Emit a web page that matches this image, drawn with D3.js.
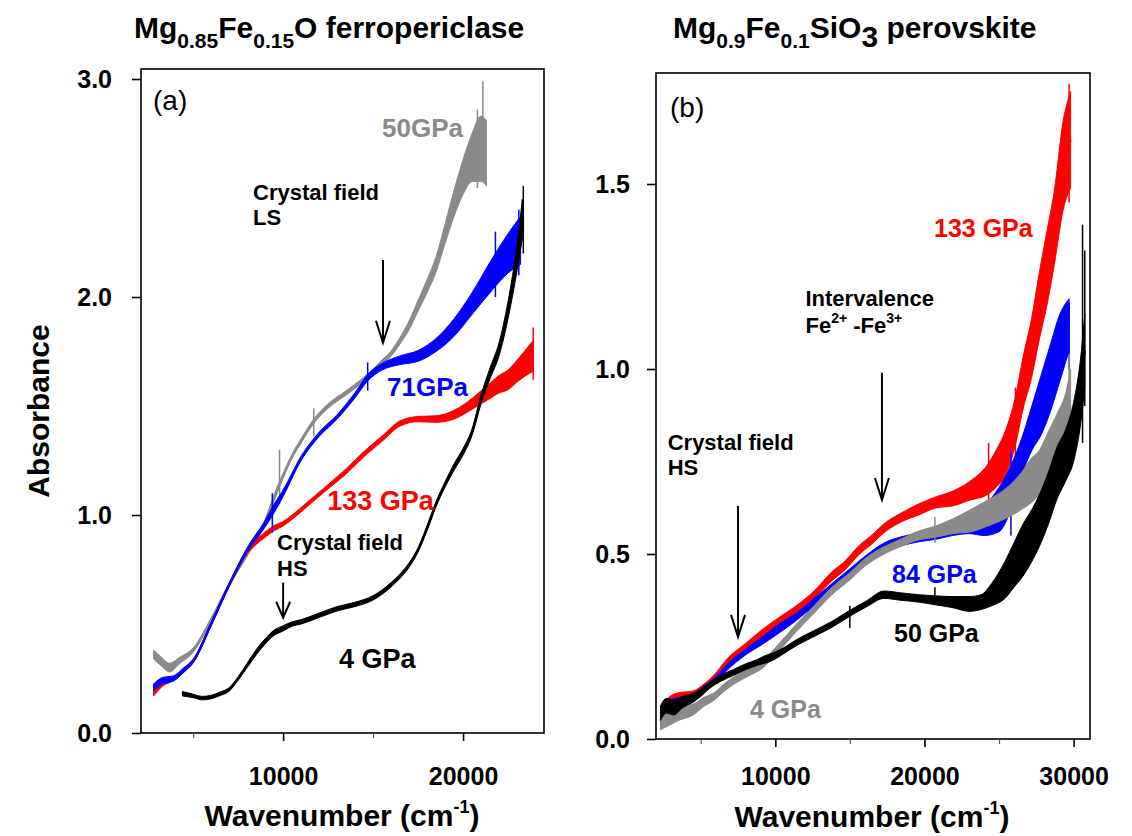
<!DOCTYPE html>
<html>
<head>
<meta charset="utf-8">
<script src="https://cdn.jsdelivr.net/npm/d3@7"></script>
<style>
  body { margin: 0; background: #fff; }
  text { font-family: "Liberation Sans", Arial, Helvetica, sans-serif; }
</style>
</head>
<body>
<svg id="fig" width="1132" height="836"></svg>
<script>
// ---------- Panel (a): Mg0.85Fe0.15O ferropericlase ----------
// wavenumber (cm-1), absorbance, and half-width of the noisy trace
const fp50Wn    = [2800, 3200, 3700, 4200, 5000, 6000, 7000, 8000, 9000, 9500, 10000, 10500, 11000, 11700, 12500, 13500, 14300, 15000, 15500, 16000, 16500, 17000, 17500, 18000, 18500, 19000, 19500, 20000, 20500, 21000, 21300];
const fp50Abs   = [0.36, 0.33, 0.30, 0.33, 0.38, 0.52, 0.68, 0.82, 0.97, 1.08, 1.18, 1.27, 1.34, 1.43, 1.50, 1.56, 1.61, 1.66, 1.70, 1.74, 1.80, 1.87, 1.96, 2.05, 2.15, 2.29, 2.43, 2.55, 2.64, 2.68, 2.66];
const fp50Noise = [0.02, 0.02, 0.02, 0.015, 0.01, 0.008, 0.008, 0.008, 0.01, 0.015, 0.012, 0.01, 0.01, 0.01, 0.01, 0.01, 0.01, 0.01, 0.012, 0.012, 0.015, 0.02, 0.025, 0.03, 0.035, 0.045, 0.06, 0.08, 0.11, 0.15, 0.15];
const fp50Spikes = [[9800, 1.05, 1.30], [11700, 1.36, 1.49], [20800, 2.50, 2.86], [21100, 2.60, 2.99]];

const fp71Wn    = [2800, 3300, 3900, 4500, 5000, 6000, 7000, 8000, 9000, 9500, 10000, 11000, 12000, 13000, 14000, 14700, 15500, 16500, 17500, 18500, 19500, 20500, 21500, 22500, 23200];
const fp71Abs   = [0.21, 0.24, 0.25, 0.29, 0.33, 0.50, 0.68, 0.84, 0.96, 1.03, 1.10, 1.26, 1.37, 1.45, 1.55, 1.63, 1.68, 1.71, 1.73, 1.78, 1.86, 1.97, 2.09, 2.20, 2.26];
const fp71Noise = [0.015, 0.015, 0.012, 0.01, 0.008, 0.008, 0.008, 0.01, 0.015, 0.02, 0.015, 0.01, 0.01, 0.01, 0.012, 0.015, 0.015, 0.02, 0.025, 0.03, 0.04, 0.05, 0.07, 0.09, 0.11];
const fp71Spikes = [[9400, 0.92, 1.10], [14700, 1.57, 1.70], [21800, 2.00, 2.30], [23100, 2.10, 2.40]];

const fp133Wn    = [2800, 3300, 3900, 4500, 5000, 6000, 7000, 8000, 9000, 9500, 10000, 10500, 11500, 12500, 13500, 14500, 15500, 16500, 17500, 18500, 19500, 20500, 21000, 21500, 22000, 22500, 23000, 23500, 23900];
const fp133Abs   = [0.19, 0.23, 0.25, 0.29, 0.33, 0.50, 0.68, 0.83, 0.91, 0.94, 0.96, 0.99, 1.06, 1.13, 1.20, 1.28, 1.35, 1.42, 1.44, 1.44, 1.46, 1.51, 1.54, 1.57, 1.60, 1.62, 1.66, 1.70, 1.73];
const fp133Noise = [0.02, 0.015, 0.01, 0.01, 0.008, 0.008, 0.008, 0.01, 0.012, 0.012, 0.01, 0.01, 0.01, 0.01, 0.012, 0.012, 0.012, 0.012, 0.012, 0.015, 0.02, 0.025, 0.03, 0.035, 0.04, 0.045, 0.05, 0.06, 0.07];
const fp133Spikes = [[23900, 1.62, 1.86]];

const fp4Wn    = [4400, 5000, 5500, 6000, 6500, 7000, 7500, 8000, 8500, 9000, 9500, 10000, 10500, 11000, 12000, 13000, 14000, 15000, 16000, 16500, 17000, 17500, 18000, 18500, 19000, 19500, 20000, 20500, 21000, 21500, 22000, 22500, 23000, 23300];
const fp4Abs   = [0.18, 0.17, 0.16, 0.165, 0.18, 0.20, 0.25, 0.31, 0.37, 0.42, 0.46, 0.48, 0.50, 0.51, 0.54, 0.57, 0.59, 0.62, 0.68, 0.72, 0.77, 0.84, 0.94, 1.05, 1.14, 1.22, 1.29, 1.38, 1.53, 1.65, 1.76, 1.94, 2.18, 2.36];
const fp4Noise = [0.01, 0.008, 0.008, 0.008, 0.008, 0.008, 0.008, 0.01, 0.012, 0.012, 0.012, 0.012, 0.01, 0.01, 0.01, 0.01, 0.01, 0.01, 0.01, 0.01, 0.01, 0.01, 0.012, 0.012, 0.012, 0.015, 0.015, 0.015, 0.02, 0.025, 0.03, 0.04, 0.06, 0.09];
const fp4Spikes = [[23350, 2.20, 2.51]];

// ---------- Panel (b): Mg0.9Fe0.1SiO3 perovskite ----------
const pv133Wn    = [2300, 2800, 3500, 4500, 5200, 6000, 6800, 8000, 9100, 10300, 11400, 12600, 13800, 14700, 15600, 16500, 17300, 18500, 19600, 20800, 21900, 23000, 24200, 24800, 25400, 26100, 26600, 27200, 27700, 28200, 28700, 29300, 29800];
const pv133Abs   = [0.06, 0.09, 0.11, 0.12, 0.14, 0.17, 0.21, 0.25, 0.285, 0.32, 0.35, 0.39, 0.44, 0.47, 0.51, 0.54, 0.57, 0.60, 0.62, 0.64, 0.65, 0.67, 0.70, 0.73, 0.77, 0.86, 0.96, 1.06, 1.17, 1.27, 1.38, 1.55, 1.62];
const pv133Noise = [0.02, 0.02, 0.015, 0.01, 0.008, 0.008, 0.008, 0.008, 0.01, 0.01, 0.01, 0.01, 0.012, 0.012, 0.012, 0.012, 0.012, 0.012, 0.015, 0.015, 0.02, 0.025, 0.04, 0.05, 0.06, 0.065, 0.07, 0.08, 0.09, 0.10, 0.10, 0.12, 0.13];
const pv133Spikes = [[24300, 0.60, 0.80], [26100, 0.75, 0.95], [29700, 1.45, 1.77]];

const pv84Wn    = [2300, 2800, 3500, 4500, 5200, 6000, 6800, 8000, 9100, 10300, 11400, 12600, 13800, 15000, 16200, 17300, 18500, 19600, 20800, 21900, 23000, 24000, 25000, 25800, 26500, 27200, 27800, 28400, 29100, 29700];
const pv84Abs   = [0.05, 0.085, 0.10, 0.11, 0.135, 0.16, 0.195, 0.235, 0.265, 0.30, 0.33, 0.37, 0.41, 0.45, 0.49, 0.52, 0.535, 0.545, 0.555, 0.565, 0.575, 0.59, 0.62, 0.68, 0.76, 0.84, 0.90, 0.97, 1.06, 1.12];
const pv84Noise = [0.015, 0.015, 0.012, 0.01, 0.008, 0.008, 0.008, 0.008, 0.01, 0.012, 0.01, 0.01, 0.01, 0.01, 0.01, 0.01, 0.012, 0.012, 0.015, 0.015, 0.02, 0.04, 0.06, 0.06, 0.05, 0.06, 0.08, 0.09, 0.09, 0.07];
const pv84Spikes = [[25800, 0.55, 0.78], [29700, 1.00, 1.18]];

const pv4Wn    = [2300, 2800, 3500, 4500, 5200, 5900, 6600, 7300, 8200, 9100, 10300, 11400, 12600, 13800, 15000, 16100, 17300, 18400, 19600, 20700, 21900, 23100, 24200, 25400, 26500, 27200, 27700, 28300, 28900, 29500, 29800];
const pv4Abs   = [0.05, 0.06, 0.07, 0.08, 0.10, 0.115, 0.14, 0.16, 0.18, 0.20, 0.25, 0.30, 0.35, 0.40, 0.44, 0.48, 0.51, 0.53, 0.55, 0.56, 0.575, 0.59, 0.61, 0.635, 0.67, 0.70, 0.72, 0.76, 0.80, 0.85, 0.90];
const pv4Noise = [0.025, 0.025, 0.02, 0.015, 0.012, 0.01, 0.01, 0.01, 0.01, 0.01, 0.01, 0.01, 0.01, 0.01, 0.01, 0.01, 0.01, 0.01, 0.012, 0.015, 0.02, 0.03, 0.035, 0.04, 0.05, 0.06, 0.06, 0.07, 0.08, 0.09, 0.10];
const pv4Spikes = [[20700, 0.53, 0.60], [29700, 0.85, 1.04]];

const pv50Wn    = [2300, 2700, 3200, 3800, 4400, 5000, 5600, 6400, 7200, 8000, 8800, 9300, 9800, 10500, 11400, 12600, 13800, 15000, 16100, 17300, 18400, 19600, 20700, 21900, 23000, 23800, 24500, 25400, 26000, 26600, 27200, 27700, 28300, 28900, 29500, 30000, 30500, 30750];
const pv50Abs   = [0.07, 0.09, 0.085, 0.10, 0.11, 0.125, 0.145, 0.165, 0.18, 0.195, 0.207, 0.215, 0.222, 0.237, 0.26, 0.285, 0.31, 0.34, 0.365, 0.39, 0.385, 0.38, 0.375, 0.37, 0.365, 0.37, 0.39, 0.43, 0.47, 0.51, 0.55, 0.59, 0.65, 0.72, 0.77, 0.83, 0.95, 1.05];
const pv50Noise = [0.02, 0.02, 0.02, 0.015, 0.012, 0.01, 0.008, 0.008, 0.008, 0.008, 0.008, 0.01, 0.01, 0.008, 0.008, 0.008, 0.008, 0.008, 0.008, 0.01, 0.01, 0.01, 0.012, 0.015, 0.02, 0.02, 0.03, 0.05, 0.06, 0.07, 0.07, 0.07, 0.07, 0.07, 0.07, 0.08, 0.09, 0.10];
const pv50Spikes = [[15000, 0.30, 0.36], [20700, 0.37, 0.41], [30600, 0.80, 1.39], [30750, 0.90, 1.32]];

// tick values
const ticksA_y = [0, 1, 2, 3];
const ticksB_y = [0, 0.5, 1.0, 1.5];
const ticksA_x = [10000, 20000];
const ticksB_x = [10000, 20000, 30000];
const minorA_x = [5000, 15000];
const minorB_x = [5000, 15000, 25000];

const RED = "#ff0000", BLUE = "#0000ff", GRAY = "#8a8a8a", BLACK = "#000000";

function build(wn, abs, noise, spikes, color) {
  return { pts: wn.map((w, i) => ({ w, a: abs[i], n: noise[i] || 0 })), spikes, color };
}

const panels = [
  {
    id: "a",
    box: { left: 141, right: 544, top: 69, bottom: 733 },
    xDomain: [2100, 24500], yDomain: [0, 3.046],
    yTicks: ticksA_y, xTicks: ticksA_x, xMinor: minorA_x,
    yPad: 20, xPad: 26,
    series: [
      build(fp50Wn, fp50Abs, fp50Noise, fp50Spikes, GRAY),
      build(fp133Wn, fp133Abs, fp133Noise, fp133Spikes, RED),
      build(fp71Wn, fp71Abs, fp71Noise, fp71Spikes, BLUE),
      build(fp4Wn, fp4Abs, fp4Noise, fp4Spikes, BLACK)
    ],
    labels: [
      { t: "(a)", w: 2767, a: 2.858, size: 28, color: BLACK, weight: "normal" },
      { t: "50GPa", w: 15500, a: 2.734, size: 26, color: GRAY },
      { t: "Crystal field", w: 8326, a: 2.445, size: 22, color: BLACK },
      { t: "LS", w: 8326, a: 2.33, size: 22, color: BLACK },
      { t: "71GPa", w: 15774, a: 1.546, size: 26, color: BLUE },
      { t: "133 GPa", w: 12448, a: 1.023, size: 27, color: RED },
      { t: "Crystal field", w: 9660, a: 0.839, size: 22, color: BLACK },
      { t: "HS", w: 9660, a: 0.72, size: 22, color: BLACK },
      { t: "4 GPa", w: 13110, a: 0.298, size: 27, color: BLACK }
    ],
    arrows: [
      { w: 15550, a0: 2.17, a1: 1.79 },
      { w: 10000, a0: 0.69, a1: 0.53 }
    ],
    xTitle: { x: 342, y: 826 }
  },
  {
    id: "b",
    box: { left: 656, right: 1090, top: 73, bottom: 739 },
    xDomain: [2000, 31100], yDomain: [0, 1.8],
    yTicks: ticksB_y, xTicks: ticksB_x, xMinor: minorB_x,
    yPad: 17, xPad: 20,
    series: [
      build(pv133Wn, pv133Abs, pv133Noise, pv133Spikes, RED),
      build(pv84Wn, pv84Abs, pv84Noise, pv84Spikes, BLUE),
      build(pv4Wn, pv4Abs, pv4Noise, pv4Spikes, GRAY),
      build(pv50Wn, pv50Abs, pv50Noise, pv50Spikes, BLACK)
    ],
    labels: [
      { t: "(b)", w: 2939, a: 1.681, size: 28, color: BLACK, weight: "normal" },
      { t: "133 GPa", w: 20640, a: 1.357, size: 25, color: RED },
      { t: "Intervalence", w: 12024, a: 1.17, size: 22, color: BLACK },
      { t: "Crystal field", w: 2784, a: 0.781, size: 22, color: BLACK },
      { t: "HS", w: 2784, a: 0.714, size: 22, color: BLACK },
      { t: "84 GPa", w: 17824, a: 0.422, size: 25, color: BLUE },
      { t: "50 GPa", w: 17958, a: 0.262, size: 25, color: BLACK },
      { t: "4 GPa", w: 8303, a: 0.057, size: 25, color: GRAY }
    ],
    ionLabel: { w: 12024, a: 1.097 },
    arrows: [
      { w: 17150, a0: 0.99, a1: 0.646 },
      { w: 7500, a0: 0.63, a1: 0.276 }
    ],
    xTitle: { x: 872, y: 827 }
  }
];

const svg = d3.select("#fig");

panels.forEach(p => {
  const b = p.box;
  const x = d3.scaleLinear().domain(p.xDomain).range([b.left, b.right]);
  const y = d3.scaleLinear().domain(p.yDomain).range([b.bottom, b.top]);
  const g = svg.append("g");

  const clipId = "clip-" + p.id;
  svg.append("defs").append("clipPath").attr("id", clipId)
    .append("rect").attr("x", b.left).attr("y", b.top)
    .attr("width", b.right - b.left).attr("height", b.bottom - b.top);

  const plot = g.append("g").attr("clip-path", `url(#${clipId})`);

  // spectra: a filled band for the noise spread plus a centre trace
  const band = d3.area().curve(d3.curveMonotoneX)
    .x(d => x(d.w)).y0(d => y(d.a - d.n)).y1(d => y(d.a + d.n));
  const line = d3.line().curve(d3.curveMonotoneX).x(d => x(d.w)).y(d => y(d.a));

  p.series.forEach(s => {
    plot.append("path").datum(s.pts).attr("d", band)
      .attr("fill", s.color).attr("stroke", s.color).attr("stroke-width", 1)
      .attr("stroke-linejoin", "round");
    plot.append("path").datum(s.pts).attr("d", line)
      .attr("fill", "none").attr("stroke", s.color).attr("stroke-width", 2)
      .attr("stroke-linejoin", "round");
    plot.selectAll(null).data(s.spikes).enter().append("line")
      .attr("x1", d => x(d[0])).attr("x2", d => x(d[0]))
      .attr("y1", d => y(d[1])).attr("y2", d => y(d[2]))
      .attr("stroke", s.color).attr("stroke-width", 1.5);
  });

  // frame
  g.append("rect").attr("x", b.left).attr("y", b.top)
    .attr("width", b.right - b.left).attr("height", b.bottom - b.top)
    .attr("fill", "none").attr("stroke", "#000").attr("stroke-width", 1.6);

  // axes
  const yAxis = d3.axisLeft(y).tickValues(p.yTicks).tickFormat(d3.format(".1f"))
    .tickSize(9).tickSizeOuter(0).tickPadding(p.yPad);
  const ya = g.append("g").attr("transform", `translate(${b.left},0)`).call(yAxis);
  const xAxis = d3.axisBottom(x).tickValues(p.xTicks).tickFormat(d3.format("d"))
    .tickSize(8).tickSizeOuter(0).tickPadding(p.xPad);
  const xa = g.append("g").attr("transform", `translate(0,${b.bottom})`).call(xAxis);
  const xMinorAxis = d3.axisBottom(x).tickValues(p.xMinor).tickFormat("")
    .tickSize(5).tickSizeOuter(0);
  const xm = g.append("g").attr("transform", `translate(0,${b.bottom})`).call(xMinorAxis);
  [ya, xa, xm].forEach(ax => {
    ax.select(".domain").remove();
    ax.selectAll("line").attr("stroke", "#000").attr("stroke-width", 1.6);
    ax.selectAll("text").attr("font-size", 25).attr("font-weight", "bold")
      .attr("fill", "#000").attr("font-family", '"Liberation Sans", Arial, sans-serif');
  });
  xm.selectAll("line").attr("stroke", "#555").attr("stroke-width", 1.2);

  // annotations
  p.labels.forEach(l => {
    g.append("text").attr("x", x(l.w)).attr("y", y(l.a))
      .attr("font-size", l.size).attr("font-weight", l.weight || "bold")
      .attr("fill", l.color).text(l.t);
  });
  if (p.ionLabel) {
    const t = g.append("text").attr("x", x(p.ionLabel.w)).attr("y", y(p.ionLabel.a))
      .attr("font-size", 22).attr("font-weight", "bold");
    t.append("tspan").text("Fe");
    t.append("tspan").attr("font-size", 14).attr("dy", -10).text("2+");
    t.append("tspan").attr("dy", 10).text(" -Fe");
    t.append("tspan").attr("font-size", 14).attr("dy", -10).text("3+");
  }
  p.arrows.forEach(ar => {
    const ax = x(ar.w), y0 = y(ar.a0), y1 = y(ar.a1);
    const headH = Math.min(22, (y1 - y0) * 0.45), headW = 7;
    g.append("line").attr("x1", ax).attr("x2", ax).attr("y1", y0).attr("y2", y1)
      .attr("stroke", "#000").attr("stroke-width", 2);
    g.append("path")
      .attr("d", `M${ax - headW},${y1 - headH} L${ax},${y1} L${ax + headW},${y1 - headH}`)
      .attr("fill", "none").attr("stroke", "#000").attr("stroke-width", 2);
  });

  // x-axis title
  const xt = g.append("text").attr("x", p.xTitle.x).attr("y", p.xTitle.y)
    .attr("text-anchor", "middle").attr("font-size", 30).attr("font-weight", "bold");
  xt.append("tspan").text("Wavenumber (cm");
  xt.append("tspan").attr("font-size", 18).attr("dy", -13).text("-1");
  xt.append("tspan").attr("dy", 13).text(")");
});

// y-axis title
svg.append("text").attr("transform", "translate(49,411) rotate(-90)")
  .attr("text-anchor", "middle").attr("font-size", 30).attr("font-weight", "bold")
  .text("Absorbance");

// panel titles
const ta = svg.append("text").attr("x", 134).attr("y", 38)
  .attr("font-size", 30).attr("font-weight", "bold");
ta.append("tspan").text("Mg");
ta.append("tspan").attr("font-size", 21).attr("dy", 10).text("0.85");
ta.append("tspan").attr("dy", -10).text("Fe");
ta.append("tspan").attr("font-size", 21).attr("dy", 10).text("0.15");
ta.append("tspan").attr("dy", -10).text("O ferropericlase");

const tb = svg.append("text").attr("x", 673).attr("y", 38)
  .attr("font-size", 30).attr("font-weight", "bold");
tb.append("tspan").text("Mg");
tb.append("tspan").attr("font-size", 21).attr("dy", 10).text("0.9");
tb.append("tspan").attr("dy", -10).text("Fe");
tb.append("tspan").attr("font-size", 21).attr("dy", 10).text("0.1");
tb.append("tspan").attr("dy", -10).text("SiO");
tb.append("tspan").attr("dy", 9).text("3");
tb.append("tspan").attr("dy", -9).text(" perovskite");
</script>
</body>
</html>
